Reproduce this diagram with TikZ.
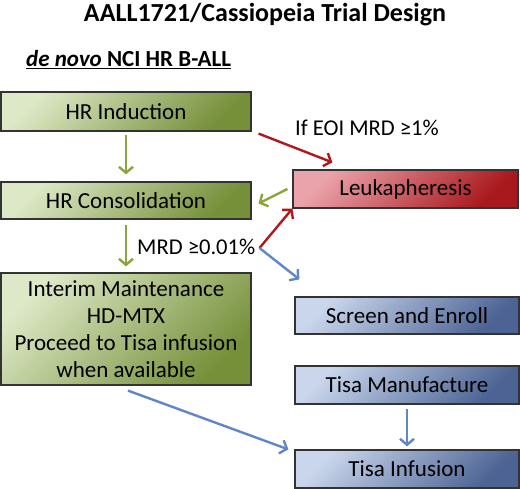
\documentclass[tikz,border=0pt]{standalone}
\usepackage{fontspec}
\setmainfont{Carlito}
\usetikzlibrary{arrows.meta,positioning,calc}

\definecolor{grnlight}{HTML}{DDE8C6}
\definecolor{grndark}{HTML}{76903A}
\definecolor{redlight}{HTML}{EBA3AB}
\definecolor{reddark}{HTML}{A8181C}
\definecolor{blulight}{HTML}{C9D6EC}
\definecolor{bludark}{HTML}{4C6393}
\definecolor{grnarrow}{HTML}{8AA43E}
\definecolor{redarrow}{HTML}{B0181C}
\definecolor{bluarrow}{HTML}{5F86C6}

\begin{document}
\begin{tikzpicture}[
  x=1pt,y=-1pt,
  box/.style={draw=black!80,line width=1.2pt,inner sep=2pt,align=center,
              font=\fontsize{23}{27}\selectfont},
  grnbox/.style={box,top color=grnlight,bottom color=grndark,shading angle=45},
  redbox/.style={box,top color=redlight,bottom color=reddark,shading angle=45},
  blubox/.style={box,top color=blulight,bottom color=bludark,shading angle=45},
  arr/.style={line width=2.4pt,-{Straight Barb[length=6pt,width=14pt]}},
  grnarr/.style={arr,draw=grnarrow},
  redarr/.style={arr,draw=redarrow},
  bluarr/.style={arr,draw=bluarrow},
  lbl/.style={font=\fontsize{22.6}{26}\selectfont,inner sep=0pt},
]
  \useasboundingbox (0,0) rectangle (520,489);

  % Title and population
  \node[font=\fontsize{26}{30}\selectfont\bfseries] (title) at (265,15)
    {AALL1721/Cassiopeia Trial Design};
  \node[font=\fontsize{23}{26}\selectfont\bfseries,anchor=west,inner sep=0pt] (pop) at (26,60)
    {\underline{\textit{de novo} NCI HR B-ALL}};

  % Standard therapy (left column)
  \node[grnbox,minimum width=250,minimum height=39] (ind)  at (126,111.5) {HR Induction};
  \node[grnbox,minimum width=250,minimum height=37] (cons) at (126,200.5) {HR Consolidation};
  \node[grnbox,minimum width=250,minimum height=112] (im) at (126,329)
    {Interim Maintenance\\HD-MTX\\Proceed to Tisa infusion\\when available};

  % CAR T pathway (right column)
  \node[redbox,minimum width=225,minimum height=38] (leuk)   at (405.5,189) {Leukapheresis};
  \node[blubox,minimum width=224,minimum height=37] (screen) at (407,315.5) {Screen and Enroll};
  \node[blubox,minimum width=224,minimum height=38] (manu)   at (407,385)   {Tisa Manufacture};
  \node[blubox,minimum width=224,minimum height=38] (inf)    at (407,469)   {Tisa Infusion};

  % Labels
  \node[lbl,anchor=west] (eoi) at (295,128) {If EOI MRD ≥1\%};
  \node[lbl,anchor=west] (mrd) at (137,247) {MRD ≥0.01\%};

  % Connectors
  \draw[grnarr,shorten <=3pt,shorten >=7pt] (ind) -- (cons);
  \draw[grnarr,shorten <=5pt,shorten >=6pt] (cons) -- (im);
  \draw[redarr] ($(ind.south east)+(7,2)$) -- ($(leuk.north west)+(40,-7)$);
  \draw[grnarr] ($(leuk.west)+(-5,0)$) -- ($(cons.east)+(7,3)$);
  \draw[redarr] ($(mrd.east)+(4,1)$) -- (leuk.south west);
  \coordinate (scr in) at ($(screen.north west)+(5,-17)$);
  \draw[bluarr] ($(mrd.east)+(4,1)$) -- (scr in);
  \draw[bluarr] ($(im.south)+(2,5)$) -- ($(inf.north west)+(-6,0)$);
  \draw[bluarr,shorten <=4pt,shorten >=3pt] (manu) -- (inf);
\end{tikzpicture}
\end{document}
